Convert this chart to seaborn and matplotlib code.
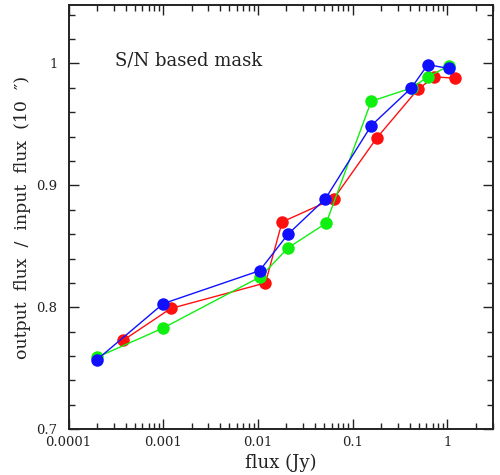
import numpy as np
import pandas as pd
import matplotlib
matplotlib.use("Agg")
import matplotlib.pyplot as plt
from matplotlib.ticker import LogLocator, FixedLocator, MultipleLocator, FuncFormatter
import seaborn as sns

# Recovered flux fraction for three simulated source sets
flux_red = [0.00038, 0.0012, 0.012, 0.018, 0.063, 0.18, 0.49, 0.73, 1.19]
ratio_red = [0.773, 0.799, 0.820, 0.870, 0.889, 0.939, 0.979, 0.989, 0.988]

flux_green = [0.0002, 0.001, 0.0106, 0.021, 0.0525, 0.157, 0.42, 0.62, 1.03]
ratio_green = [0.759, 0.783, 0.825, 0.849, 0.869, 0.969, 0.980, 0.989, 0.998]

flux_blue = [0.0002, 0.001, 0.0104, 0.0208, 0.0515, 0.157, 0.417, 0.62, 1.03]
ratio_blue = [0.757, 0.803, 0.830, 0.860, 0.889, 0.949, 0.980, 0.999, 0.996]

series_names = ["red", "green", "blue"]
series_colors = {"red": "#ff1010", "green": "#10f010", "blue": "#1010ff"}

x_ticks = [0.0001, 0.001, 0.01, 0.1, 1]
y_ticks = [0.7, 0.8, 0.9, 1.0]

frames = []
for name, fx, rt in [("red", flux_red, ratio_red),
                     ("green", flux_green, ratio_green),
                     ("blue", flux_blue, ratio_blue)]:
    frames.append(pd.DataFrame({"flux": fx, "ratio": rt, "set": name}))
df = pd.concat(frames, ignore_index=True)

sns.set_style("ticks")
plt.rcParams["font.family"] = ["DejaVu Serif", "DejaVu Sans"]
plt.rcParams["text.color"] = "#222222"
plt.rcParams["axes.labelcolor"] = "#222222"
plt.rcParams["xtick.color"] = "#222222"
plt.rcParams["ytick.color"] = "#222222"

fig = plt.figure(figsize=(5.0, 4.75), dpi=100)
ax = fig.add_axes([0.137, 0.0965, 0.849, 0.893])

for name in series_names:
    sub = df[df["set"] == name]
    sns.lineplot(data=sub, x="flux", y="ratio", ax=ax, color=series_colors[name],
                 marker="o", markersize=9, markeredgewidth=0, linewidth=1.0,
                 sort=False, estimator=None, legend=False)

ax.set_xscale("log")
ax.set_xlim(1e-4, 3.03)
ax.set_ylim(0.7, 1.048)

ax.xaxis.set_major_locator(FixedLocator(x_ticks))
ax.xaxis.set_minor_locator(LogLocator(base=10, subs=np.arange(2, 10)))
ax.xaxis.set_major_formatter(FuncFormatter(lambda v, p: f"{v:g}"))
ax.xaxis.set_minor_formatter(FuncFormatter(lambda v, p: ""))
ax.yaxis.set_major_locator(FixedLocator(y_ticks))
ax.yaxis.set_minor_locator(MultipleLocator(0.02))
ax.yaxis.set_major_formatter(FuncFormatter(lambda v, p: f"{v:g}"))

ax.tick_params(which="both", direction="in", top=True, right=True, width=1.0)
ax.tick_params(which="major", length=7, labelsize=9.5)
ax.tick_params(which="minor", length=4)
ax.tick_params(axis="x", which="major", pad=5)
ax.tick_params(axis="y", which="major", pad=8)

for sp in ax.spines.values():
    sp.set_linewidth(1.4)
    sp.set_color("#222222")

ax.set_xlabel("flux (Jy)", fontsize=13, labelpad=3)
ax.set_ylabel("output  flux  /  input  flux  (10  \u2033)", fontsize=12.5, labelpad=4)

ax.text(0.11, 0.87, "S/N based mask", transform=ax.transAxes,
        fontsize=13, ha="left", va="center")

fig.savefig("out.png", dpi=100)
